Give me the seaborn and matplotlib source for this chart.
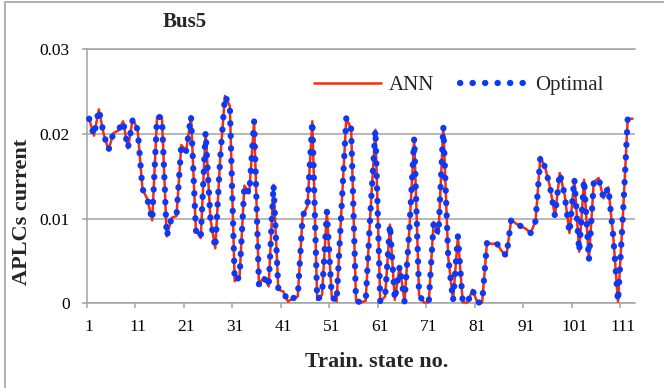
import numpy as np
import pandas as pd
import matplotlib
matplotlib.use("Agg")
import matplotlib.pyplot as plt
import seaborn as sns
from matplotlib.patches import Rectangle

# Training states 1..113
state_no = list(range(1, 114))

# APLC current for Bus5: optimal target
optimal = [
    0.0218, 0.0198, 0.0229, 0.0200, 0.0181, 0.0201, 0.0204, 0.0215, 0.0183, 0.0218,
    0.0205, 0.0135, 0.0123, 0.0098, 0.0220, 0.0220, 0.0079, 0.0101, 0.0103, 0.0187,
    0.0180, 0.0221, 0.0086, 0.0077, 0.0202, 0.0100, 0.0065, 0.0170, 0.0245, 0.0233,
    0.0026, 0.0031, 0.0139, 0.0130, 0.0215, 0.0022, 0.0031, 0.0020, 0.0140, 0.0016,
    0.0014, 0.0002, 0.0006, 0.0008, 0.0103, 0.0115, 0.0215, 0.0004, 0.0010, 0.0108,
    0.0008, 0.0002, 0.0110, 0.0219, 0.0206, 0.0003, 0.0001, 0.0003, 0.0110, 0.0205,
    0.0002, 0.0008, 0.0093, 0.0004, 0.0044, 0.0002, 0.0087, 0.0195, 0.0010, 0.0001,
    0.0001, 0.0096, 0.0082, 0.0209, 0.0055, 0.0003, 0.0079, 0.0001, 0.0001, 0.0016,
    0.0001, 0.0001, 0.0072, 0.0070, 0.0071, 0.0062, 0.0056, 0.0099, 0.0094, 0.0091,
    0.0088, 0.0083, 0.0097, 0.0173, 0.0160, 0.0137, 0.0103, 0.0154, 0.0128, 0.0083,
    0.0147, 0.0061, 0.0146, 0.0051, 0.0143, 0.0148, 0.0124, 0.0137, 0.0080, 0.0002,
    0.0102, 0.0218, 0.0218,
]

# APLC current for Bus5: ANN output
ann = [
    0.0218, 0.0198, 0.0229, 0.0200, 0.0181, 0.0201, 0.0204, 0.0215, 0.0183, 0.0218,
    0.0205, 0.0135, 0.0123, 0.0098, 0.0220, 0.0220, 0.0079, 0.0101, 0.0103, 0.0187,
    0.0180, 0.0221, 0.0086, 0.0077, 0.0202, 0.0100, 0.0065, 0.0170, 0.0245, 0.0233,
    0.0026, 0.0031, 0.0139, 0.0130, 0.0215, 0.0022, 0.0031, 0.0020, 0.0140, 0.0016,
    0.0014, 0.0002, 0.0006, 0.0008, 0.0103, 0.0115, 0.0215, 0.0004, 0.0010, 0.0108,
    0.0008, 0.0002, 0.0110, 0.0219, 0.0206, 0.0003, 0.0001, 0.0003, 0.0110, 0.0205,
    0.0002, 0.0008, 0.0093, 0.0004, 0.0044, 0.0002, 0.0087, 0.0195, 0.0010, 0.0001,
    0.0001, 0.0096, 0.0082, 0.0209, 0.0055, 0.0003, 0.0079, 0.0001, 0.0001, 0.0016,
    0.0001, 0.0001, 0.0072, 0.0070, 0.0071, 0.0062, 0.0056, 0.0099, 0.0094, 0.0091,
    0.0088, 0.0083, 0.0097, 0.0173, 0.0160, 0.0137, 0.0103, 0.0154, 0.0128, 0.0083,
    0.0147, 0.0061, 0.0146, 0.0051, 0.0143, 0.0148, 0.0124, 0.0137, 0.0080, 0.0002,
    0.0102, 0.0218, 0.0218,
]

x_tick_labels = ["1", "11", "21", "31", "41", "51", "61", "71", "81", "91", "101", "111"]
y_ticks = [0.0, 0.01, 0.02, 0.03]
y_tick_labels = ["0", "0.01", "0.02", "0.03"]

sns.set_style("white")
plt.rcParams["font.family"] = ["Liberation Serif", "DejaVu Serif"]

W, H = 664, 388
GRAY = "#a3a3a3"
RED = "#ff2a00"
BLUE = "#0a3af7"

fig = plt.figure(figsize=(W / 100, H / 100), dpi=100)
ax_left, ax_right, ax_top, ax_bottom = 86.7, 635.0, 49.3, 303.3
ax = fig.add_axes([ax_left / W, 1 - ax_bottom / H,
                   (ax_right - ax_left) / W, (ax_bottom - ax_top) / H])

df = pd.DataFrame({"state": state_no, "ANN": ann, "Optimal": optimal})

sns.lineplot(data=df, x="state", y="ANN", ax=ax, color=RED, linewidth=1.8,
             label="ANN", zorder=3, clip_on=False)
sns.lineplot(data=df, x="state", y="Optimal", ax=ax, color=BLUE, linewidth=4.5,
             linestyle=(0, (0.05, 1.95)), dash_capstyle="round",
             label="Optimal", zorder=4, clip_on=False)

# axes ranges and ticks
ax.set_xlim(0.5, len(state_no) + 0.5)
ax.set_ylim(0, 0.03)

ax.set_xticks(np.arange(0.5, 111, 10))
ax.set_xticklabels([])
ax.set_xticks(np.arange(1, 112, 10), minor=True)
ax.set_xticklabels(x_tick_labels, minor=True)
ax.tick_params(axis="x", which="major", direction="out", length=3.6, width=1.1,
               color=GRAY, bottom=True)
ax.tick_params(axis="x", which="minor", length=0, pad=11.5, labelsize=12.5,
               labelcolor="black")

ax.set_yticks(y_ticks)
ax.set_yticklabels(y_tick_labels)
ax.tick_params(axis="y", direction="out", length=3.6, width=1.1, color=GRAY,
               left=True, pad=8.6, labelsize=12.5, labelcolor="black")

ax.yaxis.grid(True, color=GRAY, linewidth=1.1)
ax.xaxis.grid(False)
for side in ["left", "bottom", "top"]:
    ax.spines[side].set_color(GRAY)
    ax.spines[side].set_linewidth(1.1)
ax.spines["right"].set_visible(False)

# axis titles
ax.set_xlabel("Train. state no.", fontsize=16, fontweight="bold")
ax.xaxis.set_label_coords(377 / W, 1 - 366.7 / H, transform=fig.transFigure)
ax.xaxis.label.set_va("baseline")

ax.set_ylabel("APLCs current", fontsize=16, fontweight="bold")
ax.yaxis.set_label_coords(26.7 / W, 1 - 211.5 / H, transform=fig.transFigure)
ax.yaxis.label.set(ha="center", va="baseline", rotation_mode="anchor")

fig.text(185 / W, 1 - 26.8 / H, "Bus5", ha="center", va="baseline",
         fontsize=15, fontweight="bold")

ax.legend(loc="center left", bbox_to_anchor=(314 / W, 1 - 85 / H),
          bbox_transform=fig.transFigure, ncol=2, frameon=False, fontsize=15,
          handlelength=3.2, handletextpad=0.4, columnspacing=1.25,
          borderpad=0, borderaxespad=0)

# chart-area border
fig.patches.append(Rectangle((4.5 / W, -0.5), 2, 0.5 + 1 - 1.5 / H,
                             transform=fig.transFigure, fill=False,
                             edgecolor=GRAY, linewidth=1.2))

fig.savefig("out.png", dpi=100)
